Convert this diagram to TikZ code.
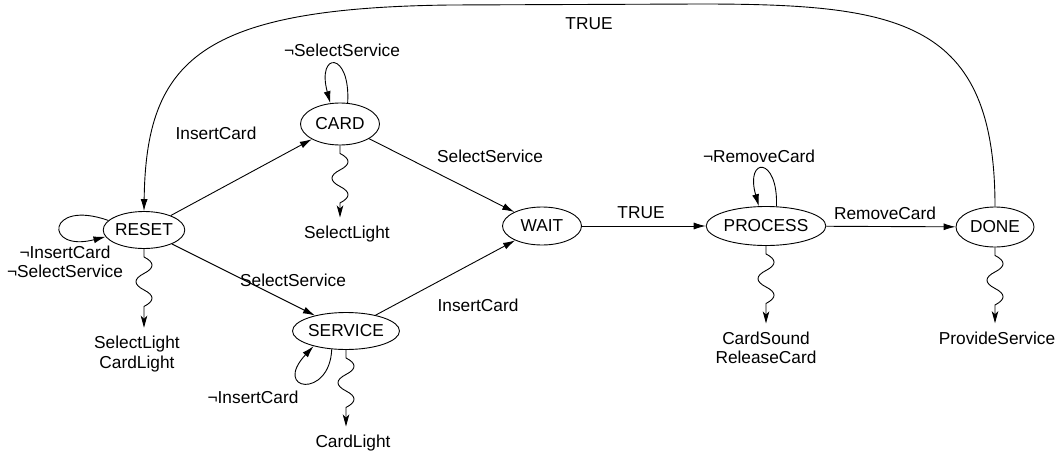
\documentclass[tikz,border=0pt]{standalone}
\usepackage{fontspec}
\setmainfont{Liberation Sans}
\usetikzlibrary{shapes.geometric,arrows.meta}
\newcommand{\fsz}{\fontsize{17.3}{19.5}\selectfont}
% one and a half periods of a vertical wave, bulging right first
\newcommand{\wavepath}{-- ++(0,8)
  .. controls +(10.7,5.5) and +(10.7,-5.5) .. ++(0,16.5)
  .. controls +(-10.7,5.5) and +(-10.7,-5.5) .. ++(0,16.5)
  .. controls +(10.7,5.5) and +(10.7,-5.5) .. ++(0,16.5)}
\begin{document}
\begin{tikzpicture}[x=1pt,y=-1pt,line width=0.9pt,
  state/.style={ellipse,draw,inner sep=0pt,font=\fsz},
  edge/.style={-{Latex[length=12pt,width=7pt]}},
  wave/.style={-{Stealth[length=12pt,width=6.5pt,inset=3pt]}},
  lbl/.style={font=\fsz,inner sep=0pt},
  outlbl/.style={font=\fsz,inner sep=8pt,align=center}]
\useasboundingbox (0,0) rectangle (1056,455);

% states
\node[state,minimum width=79pt,minimum height=37pt] (reset) at (144,230) {RESET};
\node[state,minimum width=79pt,minimum height=42pt] (card) at (340,124) {CARD};
\node[state,minimum width=79pt,minimum height=38pt] (wait) at (542,226) {WAIT};
\node[state,minimum width=105pt,minimum height=37pt] (service) at (346,331) {SERVICE};
\node[state,minimum width=105pt,minimum height=39pt] (process) at (766,226) {PROCESS};
\node[state,minimum width=78pt,minimum height=40pt] (done) at (995,227) {DONE};

% output labels
\node[outlbl] (resetout) at (137,354) {SelectLight\\CardLight};
\node[outlbl] (cardout) at (347,234) {SelectLight};
\node[outlbl] (serviceout) at (353,443) {CardLight};
\node[outlbl] (processout) at (766,348) {CardSound\\ReleaseCard};
\node[outlbl] (doneout) at (997,338) {ProvideService};

% transitions
\draw[edge] (reset) -- (card) node[lbl] at (216,133) {InsertCard};
\draw[edge] (card) -- (wait) node[lbl] at (490,156) {SelectService};
\draw[edge] (reset) -- (service) node[lbl] at (293,280) {SelectService};
\draw[edge] (service) -- (wait) node[lbl] at (478,305) {InsertCard};
\draw[edge] (wait) -- (process) node[lbl] at (641,213) {TRUE};
\draw[edge] (process) -- (done) node[lbl] at (885,213) {RemoveCard};
\draw[edge] (done.north) .. controls (995,20) and (900,4) .. (700,4)
  -- (450,5) .. controls (200,8) and (146,60) .. (reset.north)
  node[lbl] at (589,24) {TRUE};

% self loops
\draw[edge] (reset.165) .. controls +(-62,-22) and +(-62,16) .. (reset.190)
  node[lbl,align=center] at (65,262) {¬InsertCard\\¬SelectService};
\draw[edge] (card.70) .. controls +(3,-52) and +(-14,-52) .. (card.115)
  node[lbl] at (342,50) {¬SelectService};
\draw[edge] (service.232) .. controls +(-2,50) and +(-42,45) .. (service.205)
  node[lbl] at (253,397) {¬InsertCard};
\draw[edge] (process.62) .. controls +(2,-50) and +(-14,-50) .. (process.110)
  node[lbl] at (759,156) {¬RemoveCard};

% outputs
\draw[wave] (reset.south) \wavepath -- (reset.south |- resetout.north);
\draw[wave] (card.south) \wavepath -- (card.south |- cardout.north);
\draw[wave] (service.south) \wavepath -- (service.south |- serviceout.north);
\draw[wave] (process.south) \wavepath -- (process.south |- processout.north);
\draw[wave] (done.south) \wavepath -- (done.south |- doneout.north);
\end{tikzpicture}
\end{document}
